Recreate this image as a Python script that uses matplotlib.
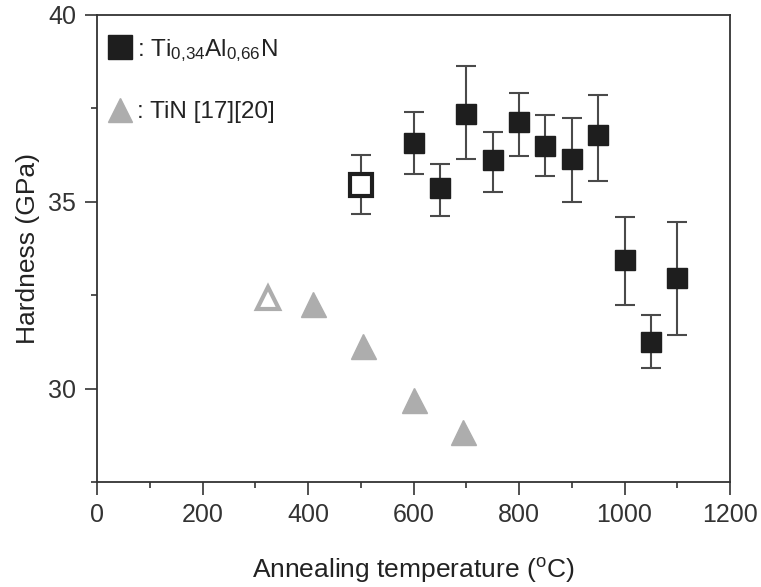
import matplotlib
matplotlib.use("Agg")
import matplotlib.pyplot as plt
from matplotlib.ticker import MultipleLocator
from matplotlib.lines import Line2D

plt.rcParams['font.family'] = ['Liberation Sans', 'DejaVu Sans']
plt.rcParams['mathtext.default'] = 'regular'

# Ti0.34Al0.66N hardness vs annealing temperature (filled squares)
tialn_temp = [600, 650, 700, 750, 800, 850, 900, 950, 1000, 1050, 1100]
tialn_hard = [36.58, 35.37, 37.35, 36.12, 37.14, 36.50, 36.15, 36.79, 33.45, 31.26, 32.97]
tialn_up = [37.41, 36.02, 38.64, 36.87, 37.91, 37.33, 37.25, 37.86, 34.60, 31.96, 34.47]
tialn_low = [35.75, 34.63, 36.15, 35.27, 36.23, 35.70, 35.00, 35.56, 32.25, 30.56, 31.44]

# as-deposited point (open square)
asdep_temp = [500]
asdep_hard = [35.45]
asdep_up = [36.25]
asdep_low = [34.68]

# TiN literature values (triangles), first one open
tin_open_temp = [325]
tin_open_hard = [32.43]
tin_temp = [410, 505, 600, 693]
tin_hard = [32.27, 31.15, 29.69, 28.83]

fig = plt.figure(figsize=(7.61, 5.87), dpi=100)
ax = fig.add_axes([97/761, 105/587, 633/761, 467/587])

err_col = '#4a4a4a'
yerr = [[h - l for h, l in zip(tialn_hard, tialn_low)],
        [u - h for h, u in zip(tialn_hard, tialn_up)]]
ax.errorbar(tialn_temp, tialn_hard, yerr=yerr, fmt='s', ms=14, mfc='#1e1e1e', mec='#1e1e1e',
            ecolor=err_col, elinewidth=1.5, capsize=7, capthick=1.5, zorder=3)
yerr2 = [[asdep_hard[0] - asdep_low[0]], [asdep_up[0] - asdep_hard[0]]]
ax.errorbar(asdep_temp, asdep_hard, yerr=yerr2, fmt='none',
            ecolor=err_col, elinewidth=1.5, capsize=7, capthick=1.5, zorder=3)
ax.plot(asdep_temp, asdep_hard, 's', ms=16, mfc='white', mec='#1e1e1e', mew=3, zorder=4)

tri_col = '#adadad'
ax.plot(tin_temp, tin_hard, '^', ms=18, color=tri_col, mec=tri_col, ls='none')
ax.plot(tin_open_temp, tin_open_hard, '^', ms=16, mfc='white', mec=tri_col, mew=3, ls='none')

ax.set_xlim(0, 1200)
ax.set_ylim(27.5, 40)
ax.xaxis.set_major_locator(MultipleLocator(200))
ax.xaxis.set_minor_locator(MultipleLocator(100))
ax.yaxis.set_major_locator(MultipleLocator(5))
ax.yaxis.set_minor_locator(MultipleLocator(2.5))
ax.tick_params(which='major', direction='out', length=9, width=1.2, labelsize=18,
               colors='#333333', labelcolor='#333333', pad=6)
ax.tick_params(which='minor', direction='out', length=4, width=1.2, colors='#333333')
for s in ax.spines.values():
    s.set_linewidth(1.3)
    s.set_color('#333333')

ax.set_xlabel('Annealing temperature ($^{o}$C)', fontsize=19, color='#222222', labelpad=21)
ax.set_ylabel('Hardness (GPa)', fontsize=19, color='#222222', labelpad=6)

handles = [Line2D([], [], marker='s', ms=17, color='#1e1e1e', ls='none'),
           Line2D([], [], marker='^', ms=17, color=tri_col, ls='none')]
labels = [': Ti$_{0{,}34}$Al$_{0{,}66}$N', ': TiN [17][20]']
ax.legend(handles, labels, loc='upper left', bbox_to_anchor=(-0.016, 1.0), frameon=False,
          fontsize=17.5, handlelength=0.9, handletextpad=0.25, labelspacing=1.55,
          labelcolor='#222222')

fig.savefig('out.png', dpi=100)
